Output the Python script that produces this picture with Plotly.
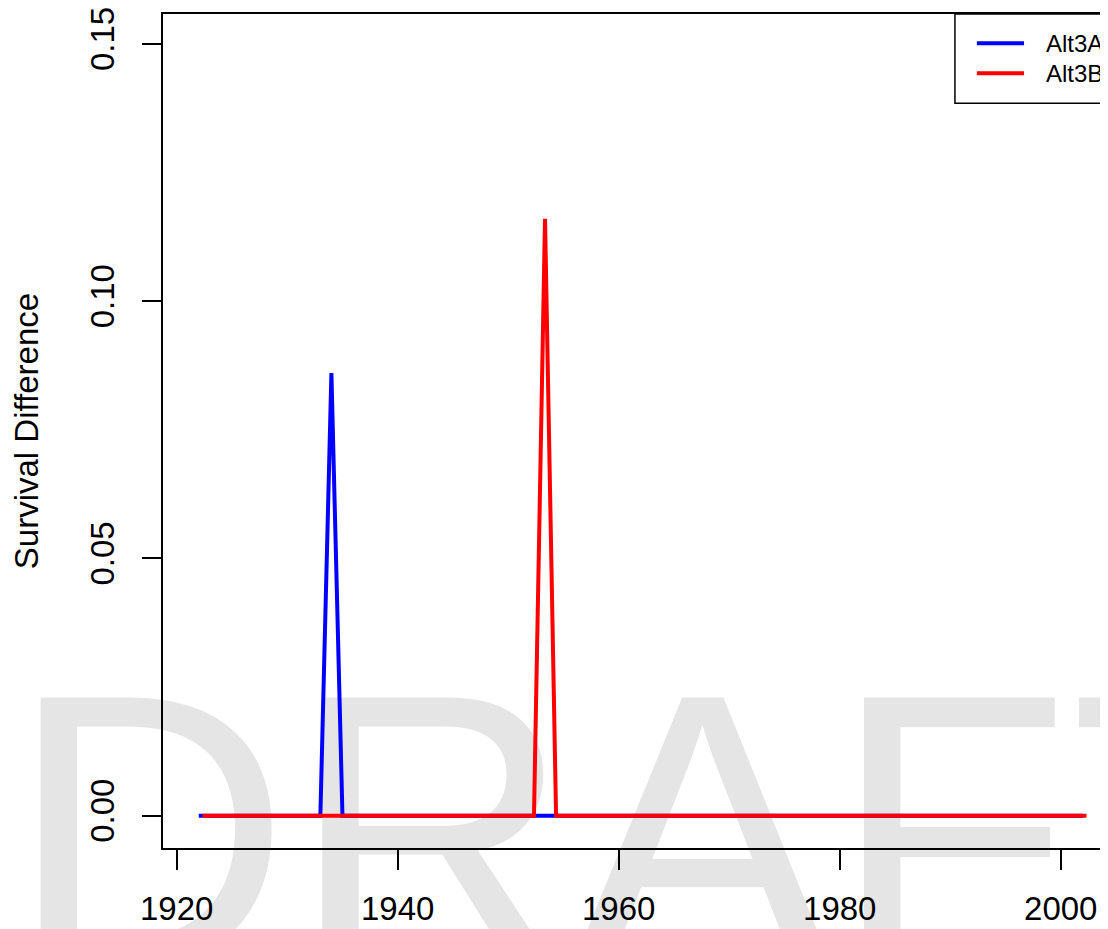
import plotly.graph_objects as go

# water years on the x axis
years = list(range(1922, 2003))
# Alt3B points sit about a third of a year to the right of Alt3A in the picture
alt3b_years = [yr + 0.33 for yr in years]

# survival difference, zero everywhere except the single spikes
alt3a = [0.0] * 12 + [0.086] + [0.0] * 68    # spike at 1934
alt3b = [0.0] * 31 + [0.116] + [0.0] * 49    # spike at 1953

series_names = ["Alt3A", "Alt3B"]
series_colors = ["#0000ff", "#ff0000"]

x_ticks = [1920, 1940, 1960, 1980, 2000]
y_ticks = [0.0, 0.05, 0.10, 0.15]
y_ticktext = ["0.00", "0.05", "0.10", "0.15"]

FONT = "Liberation Sans, Arial, Helvetica, sans-serif"

fig = go.Figure()
for xs, ys, name, col in zip([years, alt3b_years], [alt3a, alt3b], series_names, series_colors):
    fig.add_trace(go.Scatter(x=xs, y=ys, mode="lines", name=name,
                             line=dict(color=col, width=4), showlegend=False))

# big grey DRAFT watermark behind everything
fig.add_shape(type="rect", xref="paper", yref="paper",
              x0=0.50, x1=0.54, y0=0.052, y1=0.078,
              layer="below", line=dict(width=0), fillcolor="rgba(0,0,0,0)",
              label=dict(text="DRAFT", textposition="middle center",
                         font=dict(family=FONT, size=390, color="#e5e5e5")))

# R-style legend box in the top right corner (its right side runs off the page)
fig.add_shape(type="rect", xref="paper", yref="paper",
              x0=0.831, x1=1.05, y0=0.893, y1=1.0,
              line=dict(color="black", width=1.5), fillcolor="white")
for i, (name, col) in enumerate(zip(series_names, series_colors)):
    yy = 0.965 - i * 0.036
    fig.add_shape(type="line", xref="paper", yref="paper",
                  x0=0.854, x1=0.9035, y0=yy, y1=yy,
                  line=dict(color=col, width=4))
    fig.add_annotation(xref="paper", yref="paper", x=0.924, y=yy,
                       xanchor="left", yanchor="middle", text=name, showarrow=False,
                       font=dict(family=FONT, size=24, color="black"))

fig.update_xaxes(range=[1918.76, 2005.0], tickvals=x_ticks,
                 ticks="outside", ticklen=20, tickwidth=1.5, tickcolor="black",
                 showline=True, linecolor="black", linewidth=1.5, mirror=True,
                 showgrid=False, zeroline=False, ticklabelstandoff=11, automargin=False,
                 ticklabeloverflow="allow",
                 tickfont=dict(family=FONT, size=33, color="black"))
fig.update_yaxes(range=[-0.00628, 0.1558], tickvals=y_ticks, ticktext=y_ticktext,
                 tickangle=-90, ticks="outside", ticklen=19, tickwidth=1.5,
                 tickcolor="black", showline=True, linecolor="black", linewidth=1.5,
                 showgrid=False, zeroline=False, ticklabelstandoff=15, automargin=False,
                 ticklabeloverflow="allow",
                 tickfont=dict(family=FONT, size=33, color="black"),
                 title=dict(text="Survival Difference", standoff=35,
                            font=dict(family=FONT, size=33, color="black")))

# the page puts the figure 8px in from the top-left corner, margins allow for that
fig.update_layout(
    width=1108, height=929,
    margin=dict(l=155, r=0, t=6, b=89),
    plot_bgcolor="white", paper_bgcolor="white",
    showlegend=False,
)

fig.write_html("out.html")
